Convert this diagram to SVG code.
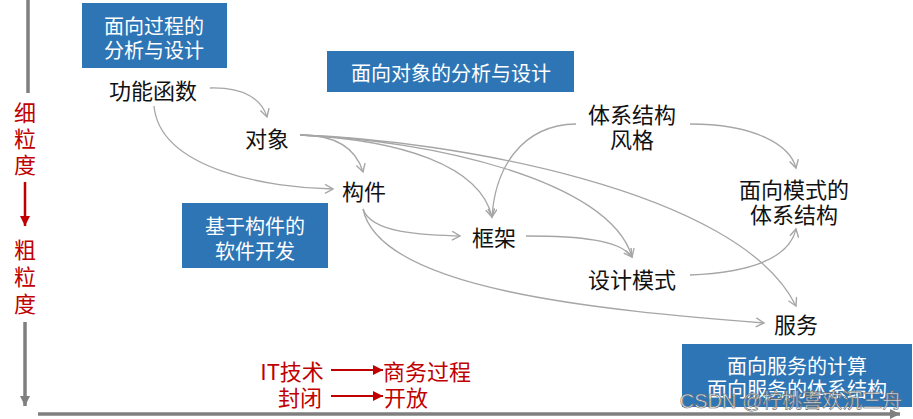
<svg xmlns="http://www.w3.org/2000/svg" width="913" height="419" viewBox="0 0 913 419">
<style>
text{font-family:"Noto Sans CJK SC","Microsoft YaHei",sans-serif;dominant-baseline:central;text-anchor:middle}
.n{font-size:22px;fill:#111}
.b{font-size:20px;fill:#fff}
.r{font-size:22px;fill:#C00000}
.box{fill:#2E75B6}
.c{fill:none;stroke:#A6A6A6;stroke-width:1.3;marker-end:url(#ah)}
.ax{stroke:#7F7F7F;stroke-width:3.5;fill:none}
</style>
<defs>
<marker id="ah" markerUnits="userSpaceOnUse" markerWidth="12" markerHeight="12" refX="9" refY="5" orient="auto">
<path d="M1,0.5 L9,5 L1,9.5" fill="none" stroke="#A6A6A6" stroke-width="1.4"/>
</marker>
<marker id="ra" markerUnits="userSpaceOnUse" markerWidth="12" markerHeight="12" refX="10" refY="5" orient="auto">
<path d="M0,0 L10,5 L0,10 Z" fill="#C00000"/>
</marker>
<marker id="ga" markerUnits="userSpaceOnUse" markerWidth="12" markerHeight="12" refX="10" refY="5" orient="auto">
<path d="M0,0 L10,5 L0,10 Z" fill="#7F7F7F"/>
</marker>
</defs>
<rect width="913" height="419" fill="#fff"/>
<g id="axes">
<line class="ax" x1="28" y1="0" x2="28" y2="93"/>
<line class="ax" x1="25" y1="322" x2="25" y2="406" marker-end="url(#ga)"/>
<line class="ax" x1="38" y1="414" x2="900" y2="414" marker-end="url(#ga)"/>
<text class="r" x="25" y="111">细<tspan x="25" dy="26">粒</tspan><tspan x="25" dy="26">度</tspan></text>
<line x1="25" y1="182" x2="25" y2="226" stroke="#C00000" stroke-width="2.5" marker-end="url(#ra)"/>
<text class="r" x="25" y="248">粗<tspan x="25" dy="27">粒</tspan><tspan x="25" dy="27">度</tspan></text>
</g>
<g id="box-process">
<rect class="box" x="82" y="3" width="145" height="65"/>
<text class="b" x="154" y="25">面向过程的<tspan x="154" dy="24">分析与设计</tspan></text>
</g>
<g id="box-oo">
<rect class="box" x="327" y="51" width="247" height="41"/>
<text class="b" x="451" y="72">面向对象的分析与设计</text>
</g>
<g id="box-cbd">
<rect class="box" x="182" y="203" width="146" height="65"/>
<text class="b" x="255" y="225">基于构件的<tspan x="255" dy="25">软件开发</tspan></text>
</g>
<g id="box-soa">
<rect class="box" x="682" y="344" width="230" height="63"/>
<text class="b" x="797" y="365">面向服务的计算<tspan x="797" dy="23">面向服务的体系结构</tspan></text>
</g>
<g id="n-func"><text class="n" x="153" y="89">功能函数</text></g>
<g id="n-obj"><text class="n" x="267" y="137">对象</text></g>
<g id="n-comp"><text class="n" x="364" y="190">构件</text></g>
<g id="n-frame"><text class="n" x="494" y="236">框架</text></g>
<g id="n-pattern"><text class="n" x="632" y="278">设计模式</text></g>
<g id="n-style"><text class="n" x="632" y="113">体系结构<tspan x="632" dy="25">风格</tspan></text></g>
<g id="n-pattern-arch"><text class="n" x="794" y="188">面向模式的<tspan x="794" dy="25">体系结构</tspan></text></g>
<g id="n-service"><text class="n" x="796" y="323">服务</text></g>
<g id="connectors">
<path class="c" d="M210,88 C245,87 262,100 267,117"/>
<path class="c" d="M154,106 C160,170 270,188 333,189"/>
<path class="c" d="M300,135 Q352,135 363,172"/>
<path class="c" d="M300,135 C400,140 480,165 492,217"/>
<path class="c" d="M300,135 C430,140 610,180 632,257"/>
<path class="c" d="M300,135 C450,140 740,190 796,306"/>
<path class="c" d="M576,124 C520,125 495,170 492,217"/>
<path class="c" d="M526,236 C580,236 620,240 632,257"/>
<path class="c" d="M363,209 C372,235 430,235 460,236"/>
<path class="c" d="M363,209 C380,290 600,310 764,323"/>
<path class="c" d="M690,275 C760,272 790,255 796,229"/>
<path class="c" d="M690,124 C755,124 790,145 796,168"/>
</g>
<g id="notes">
<text class="r" x="292" y="370">IT技术</text>
<line x1="331" y1="370" x2="383" y2="370" stroke="#C00000" stroke-width="2" marker-end="url(#ra)"/>
<text class="r" x="427" y="370">商务过程</text>
<text class="r" x="300" y="396">封闭</text>
<line x1="331" y1="396" x2="383" y2="396" stroke="#C00000" stroke-width="2" marker-end="url(#ra)"/>
<text class="r" x="406" y="396">开放</text>
</g>
<text x="791" y="401" style="font-family:'Liberation Sans','Noto Sans CJK SC',sans-serif;font-size:20px;fill:#fff;fill-opacity:0.75;stroke:#666;stroke-width:0.6">CSDN @柠桃喜欢沉三舟</text>
</svg>
